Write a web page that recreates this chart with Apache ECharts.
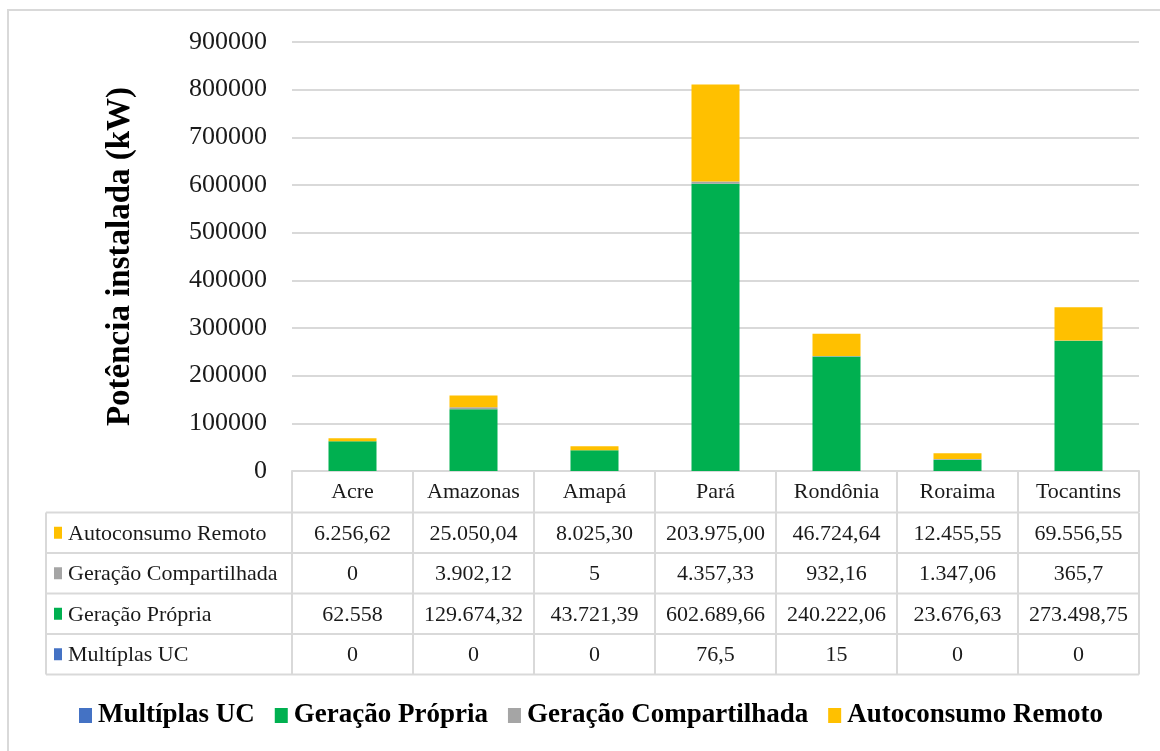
<!DOCTYPE html>
<html>
<head>
<meta charset="utf-8">
<script src="https://cdn.jsdelivr.net/npm/echarts@6/dist/echarts.min.js"></script>
<style>
  html, body { margin: 0; padding: 0; background: #fff; }
  #chart { width: 1160px; height: 751px; }
</style>
</head>
<body>
<div id="chart"></div>
<script>
// dados (como aparecem na tabela)
const categories = ['Acre', 'Amazonas', 'Amapá', 'Pará', 'Rondônia', 'Roraima', 'Tocantins'];
const multiplasUC = ['0', '0', '0', '76,5', '15', '0', '0'];
const geracaoPropria = ['62.558', '129.674,32', '43.721,39', '602.689,66', '240.222,06', '23.676,63', '273.498,75'];
const geracaoCompartilhada = ['0', '3.902,12', '5', '4.357,33', '932,16', '1.347,06', '365,7'];
const autoconsumoRemoto = ['6.256,62', '25.050,04', '8.025,30', '203.975,00', '46.724,64', '12.455,55', '69.556,55'];
const yTicks = [0, 100000, 200000, 300000, 400000, 500000, 600000, 700000, 800000, 900000];

const FONT = "'Liberation Serif', 'Times New Roman', serif";
const colors = {
    'Multíplas UC': '#4472C4',
    'Geração Própria': '#00B050',
    'Geração Compartilhada': '#A5A5A5',
    'Autoconsumo Remoto': '#FFC000'
};

// "1.234,56" -> 1234.56
function toNum(s) {
    return parseFloat(s.replace(/\./g, '').replace(',', '.'));
}

const seriesDefs = [
    { name: 'Multíplas UC', data: multiplasUC },
    { name: 'Geração Própria', data: geracaoPropria },
    { name: 'Geração Compartilhada', data: geracaoCompartilhada },
    { name: 'Autoconsumo Remoto', data: autoconsumoRemoto }
];
// linhas da tabela (ordem de cima para baixo)
const tableRows = seriesDefs.slice().reverse();

// layout
const gridLeft = 292, gridRight = 1139, gridTop = 42, gridBottom = 471;
const colW = (gridRight - gridLeft) / categories.length;
const tableLeft = 46, rowTop = 512.5, rowH = 40.5;
const lineColor = '#d9d9d9';
const textColor = '#1a1a1a';

const graphics = [];
// moldura externa
graphics.push({
    type: 'rect', shape: { x: 8, y: 10, width: 1170, height: 760 },
    style: { fill: 'none', stroke: lineColor, lineWidth: 2 }, silent: true
});
// linhas horizontais da tabela
for (let k = 0; k <= tableRows.length; k++) {
    const y = rowTop + k * rowH;
    graphics.push({
        type: 'line', shape: { x1: tableLeft, y1: y, x2: gridRight, y2: y },
        style: { stroke: lineColor, lineWidth: 2 }, silent: true
    });
}
// linhas verticais
const bottomY = rowTop + tableRows.length * rowH;
graphics.push({
    type: 'line', shape: { x1: tableLeft, y1: rowTop, x2: tableLeft, y2: bottomY },
    style: { stroke: lineColor, lineWidth: 2 }, silent: true
});
for (let i = 0; i <= categories.length; i++) {
    const x = gridLeft + i * colW;
    graphics.push({
        type: 'line', shape: { x1: x, y1: rowTop, x2: x, y2: bottomY },
        style: { stroke: lineColor, lineWidth: 2 }, silent: true
    });
}
// rótulos e valores
tableRows.forEach((row, r) => {
    const cy = rowTop + r * rowH + rowH / 2;
    graphics.push({
        type: 'rect', shape: { x: 54, y: cy - 6, width: 8, height: 12 },
        style: { fill: colors[row.name] }, silent: true
    });
    graphics.push({
        type: 'text', x: 68, y: cy + 1,
        style: { text: row.name, font: '22px ' + FONT, fill: textColor, textAlign: 'left', textVerticalAlign: 'middle' },
        silent: true
    });
    row.data.forEach((v, i) => {
        graphics.push({
            type: 'text', x: gridLeft + (i + 0.5) * colW, y: cy + 1,
            style: { text: v, font: '22px ' + FONT, fill: textColor, textAlign: 'center', textVerticalAlign: 'middle' },
            silent: true
        });
    });
});

const chart = echarts.init(document.getElementById('chart'));
const option = {
    animation: false,
    backgroundColor: '#fff',
    textStyle: { fontFamily: FONT },
    grid: { left: gridLeft, right: 1160 - gridRight, top: gridTop, bottom: 751 - gridBottom, containLabel: false },
    legend: {
        data: seriesDefs.map((s) => s.name),
        left: 74,
        top: 697,
        icon: 'rect',
        itemWidth: 13,
        itemHeight: 15,
        itemGap: 20,
        textStyle: { fontFamily: FONT, fontSize: 27, fontWeight: 'bold', color: '#000', padding: [0, 0, 0, 1] }
    },
    xAxis: {
        type: 'category',
        data: categories,
        axisLine: { show: true, lineStyle: { color: lineColor, width: 2 } },
        axisTick: { show: true, length: 41, alignWithLabel: false, lineStyle: { color: lineColor, width: 2 } },
        axisLabel: { fontFamily: FONT, fontSize: 22, color: textColor, margin: 10, interval: 0 }
    },
    yAxis: {
        type: 'value',
        min: yTicks[0],
        max: yTicks[yTicks.length - 1],
        interval: yTicks[1] - yTicks[0],
        name: 'Potência instalada (kW)',
        nameLocation: 'middle',
        nameGap: 155,
        nameTextStyle: { fontFamily: FONT, fontSize: 33, fontWeight: 'bold', color: '#000', padding: [0, 0, 0, 0] },
        axisLine: { show: false },
        axisTick: { show: false },
        axisLabel: { fontFamily: FONT, fontSize: 26, color: textColor, margin: 25, formatter: (v) => String(v) },
        splitLine: { lineStyle: { color: lineColor, width: 2 } }
    },
    series: seriesDefs.map((s) => ({
        name: s.name,
        type: 'bar',
        stack: 'total',
        barWidth: 48,
        itemStyle: { color: colors[s.name] },
        data: s.data.map(toNum)
    })),
    graphic: graphics
};
chart.setOption(option);
</script>
</body>
</html>
